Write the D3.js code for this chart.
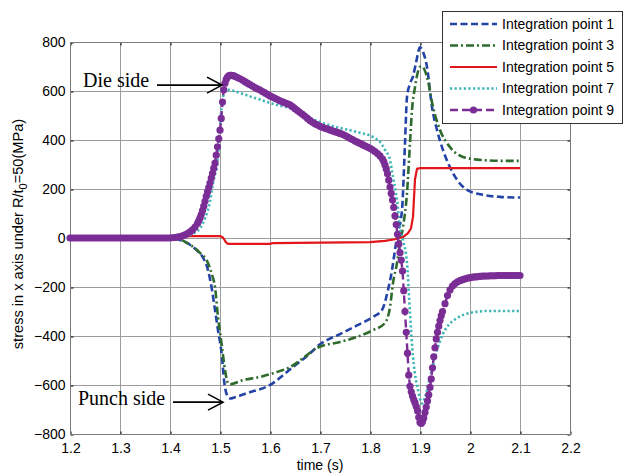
<!DOCTYPE html>
<html>
<head>
<meta charset="utf-8">
<script src="https://cdn.jsdelivr.net/npm/d3@7"></script>
<style>
  html, body { margin: 0; padding: 0; background: #fff; }
  svg { display: block; }
</style>
</head>
<body>
<svg id="chart" width="625" height="474"></svg>
<script>
// Axis ticks
const timeTicks = [1.2, 1.3, 1.4, 1.5, 1.6, 1.7, 1.8, 1.9, 2.0, 2.1, 2.2];
const stressTicks = [-800, -600, -400, -200, 0, 200, 400, 600, 800];

const seriesNames = ["Integration point 1", "Integration point 3", "Integration point 5",
                     "Integration point 7", "Integration point 9"];

// Stress history [time (s), stress (MPa)] for each integration point
const ip1 = [[1.2,0],[1.4,0],[1.42,-8],[1.434,-20],[1.446,-37],[1.456,-55],[1.466,-80],[1.476,-131],
  [1.484,-212],[1.49,-294],[1.496,-376],[1.504,-486],[1.508,-580],[1.514,-641],[1.52,-655],[1.53,-650],
  [1.554,-633],[1.6,-600],[1.645,-528],[1.674,-482],[1.7,-434],[1.74,-392],[1.774,-357],[1.806,-322],
  [1.824,-294],[1.836,-212],[1.844,-131],[1.85,-49],[1.854,4],[1.864,114],[1.87,388],[1.874,576],
  [1.88,630],[1.886,660],[1.892,715],[1.9,778],[1.906,760],[1.914,698],[1.924,535],[1.934,441],
  [1.946,359],[1.966,265],[1.994,196],[2.026,176],[2.06,168],[2.1,165]];

const ip3 = [[1.2,0],[1.4,0],[1.42,-6],[1.434,-20],[1.46,-61],[1.476,-102],[1.484,-150],[1.49,-200],
  [1.496,-322],[1.504,-445],[1.51,-539],[1.516,-592],[1.52,-597],[1.546,-580],[1.58,-567],[1.614,-547],
  [1.64,-527],[1.674,-478],[1.694,-449],[1.74,-424],[1.774,-404],[1.806,-376],[1.83,-347],[1.84,-282],
  [1.846,-184],[1.854,-102],[1.86,-20],[1.866,45],[1.874,184],[1.88,388],[1.884,522],[1.89,616],
  [1.9,698],[1.904,700],[1.914,657],[1.926,535],[1.94,441],[1.96,371],[1.986,331],[2.026,318],
  [2.06,315],[2.1,315]];

const ip5 = [[1.2,0],[1.4,0],[1.42,4],[1.44,8],[1.5,8],[1.506,2],[1.512,-18],[1.516,-24],[1.6,-24],
  [1.605,-21],[1.8,-17],[1.83,-12],[1.85,-5],[1.866,4],[1.876,20],[1.882,40],[1.886,86],[1.89,240],
  [1.894,282],[1.9,285],[2.1,285]];

const ip7 = [[1.2,0],[1.4,0],[1.42,3],[1.44,12],[1.46,40],[1.47,80],[1.48,150],[1.485,210],[1.49,260],
  [1.494,290],[1.497,370],[1.5,453],[1.503,530],[1.506,576],[1.51,598],[1.515,605],[1.52,604],
  [1.54,592],[1.56,578],[1.58,565],[1.6,551],[1.62,540],[1.64,530],[1.66,510],[1.68,490],[1.7,473],
  [1.72,460],[1.74,449],[1.76,440],[1.78,430],[1.8,418],[1.81,408],[1.82,392],[1.83,360],[1.84,318],
  [1.846,249],[1.854,155],[1.86,40],[1.866,-10],[1.874,-102],[1.88,-306],[1.886,-486],[1.892,-580],
  [1.896,-620],[1.904,-675],[1.91,-650],[1.92,-567],[1.934,-457],[1.945,-395],[1.954,-363],
  [1.974,-327],[2.0,-306],[2.034,-298],[2.1,-298]];

const ip9 = [[1.2,0],[1.205,0],[1.21,0],[1.215,0],[1.22,0],[1.225,0],[1.23,0],[1.235,0],[1.24,0],
  [1.245,0],[1.25,0],[1.255,0],[1.26,0],[1.265,0],[1.27,0],[1.275,0],[1.28,0],[1.285,0],[1.29,0],
  [1.295,0],[1.3,0],[1.305,0],[1.31,0],[1.315,0],[1.32,0],[1.325,0],[1.33,0],[1.335,0],[1.34,0],
  [1.345,0],[1.35,0],[1.355,0],[1.36,0],[1.365,0],[1.37,0],[1.375,0],[1.38,0],[1.385,0],[1.39,0],
  [1.395,0],[1.4,0],[1.405,1],[1.41,2],[1.415,4],[1.42,6],[1.425,9],[1.43,13],[1.435,18],[1.44,25],
  [1.445,33],[1.45,45],[1.455,60],[1.4575,70],[1.46,82],[1.4625,96],[1.465,112],[1.4675,130],
  [1.47,150],[1.4725,170],[1.475,188],[1.4775,206],[1.48,224],[1.4825,244],[1.485,264],[1.4875,285],
  [1.49,306],[1.4925,338],[1.495,372],[1.4975,405],[1.5,440],[1.5025,488],[1.505,555],[1.5075,605],
  [1.51,632],[1.5125,648],[1.515,657],[1.5175,662],[1.52,664],[1.5225,664],[1.525,663],[1.5275,662],
  [1.53,660],[1.535,655],[1.54,650],[1.545,645],[1.55,638],[1.555,632],[1.56,626],[1.565,620],
  [1.57,614],[1.575,609],[1.58,604],[1.585,598],[1.59,592],[1.595,586],[1.6,580],[1.605,575],
  [1.61,570],[1.615,565],[1.62,560],[1.625,556],[1.63,552],[1.635,548],[1.64,543],[1.645,536],
  [1.65,528],[1.655,520],[1.66,512],[1.665,505],[1.67,497],[1.675,488],[1.68,480],[1.685,472],
  [1.69,466],[1.695,461],[1.7,456],[1.705,452],[1.71,448],[1.715,445],[1.72,441],[1.725,437],
  [1.73,434],[1.735,431],[1.74,427],[1.745,423],[1.75,418],[1.755,413],[1.76,407],[1.765,402],
  [1.77,396],[1.775,391],[1.78,386],[1.785,381],[1.79,376],[1.795,371],[1.8,366],[1.805,360],
  [1.81,353],[1.815,345],[1.82,335],[1.825,322],[1.8275,312],[1.83,298],[1.8325,282],[1.835,262],
  [1.8375,236],[1.84,208],[1.8425,182],[1.845,155],[1.8475,125],[1.85,90],[1.8525,55],[1.855,15],
  [1.8575,-25],[1.86,-60],[1.8625,-90],[1.865,-135],[1.8675,-215],[1.87,-300],[1.8725,-385],
  [1.875,-470],[1.8775,-560],[1.88,-605],[1.8825,-628],[1.885,-645],[1.8875,-660],[1.89,-672],
  [1.8925,-688],[1.895,-705],[1.8975,-732],[1.9,-752],[1.9025,-757],[1.905,-750],[1.9075,-735],
  [1.91,-712],[1.9125,-690],[1.915,-665],[1.9175,-640],[1.92,-610],[1.9225,-575],[1.925,-530],
  [1.9275,-485],[1.93,-448],[1.9325,-412],[1.935,-385],[1.9375,-360],[1.94,-337],[1.9425,-317],
  [1.945,-300],[1.95,-268],[1.955,-235],[1.96,-212],[1.965,-196],[1.97,-186],[1.975,-179],
  [1.98,-174],[1.985,-170],[1.99,-167],[1.995,-164],[2.0,-162],[2.005,-160],[2.01,-159],[2.015,-158],
  [2.02,-157],[2.025,-156],[2.03,-155],[2.035,-155],[2.04,-154],[2.045,-154],[2.05,-154],[2.055,-153],
  [2.06,-153],[2.065,-153],[2.07,-153],[2.075,-153],[2.08,-153],[2.085,-153],[2.09,-153],[2.095,-153],
  [2.1,-153]];

// Annotations: label, text position (t, stress), arrow tail and tip (t, stress)
const notes = [
  { text: "Die side",   at: [1.226, 616],  from: [1.374, 624],  to: [1.504, 624] },
  { text: "Punch side", at: [1.216, -682], from: [1.406, -670], to: [1.506, -670] }
];

// Line styles per series
const styles = [
  { color: "#2443a6", width: 2.6, dash: "7,3.5",       curve: d3.curveMonotoneX },
  { color: "#2f6b2c", width: 2.6, dash: "8,3,2,3",     curve: d3.curveMonotoneX },
  { color: "#e3161b", width: 2.2, dash: null,          curve: d3.curveLinear },
  { color: "#3db5b8", width: 2.6, dash: "2.2,2.4",     curve: d3.curveMonotoneX },
  { color: "#7b2d96", width: 2.4, dash: "8,4",         curve: d3.curveLinear, marker: 3.6 }
];
const seriesData = [ip1, ip3, ip5, ip7, ip9];

const svg = d3.select("#chart");
svg.append("rect").attr("width", 625).attr("height", 474).attr("fill", "#fff");

const x = d3.scaleLinear().domain([1.2, 2.2]).range([70, 570]);
const y = d3.scaleLinear().domain([-800, 800]).range([434, 42]);

const font = "'Liberation Sans', Arial, Helvetica, sans-serif";

// Grid
const grid = svg.append("g").attr("stroke", "#9c9c9c").attr("stroke-width", 1);
timeTicks.forEach(t => grid.append("line")
  .attr("x1", Math.round(x(t)) + 0.5).attr("x2", Math.round(x(t)) + 0.5)
  .attr("y1", y(800)).attr("y2", y(-800)));
stressTicks.forEach(s => grid.append("line")
  .attr("x1", x(1.2)).attr("x2", x(2.2))
  .attr("y1", Math.round(y(s)) + 0.5).attr("y2", Math.round(y(s)) + 0.5));

// Axes: inward ticks on all four sides
const fmtT = d => String(+d.toFixed(1));
function styleAxis(g) {
  g.select(".domain").remove();
  g.selectAll(".tick line").attr("stroke", "#000");
  g.selectAll("text").attr("font-family", font).attr("font-size", 14).attr("fill", "#000");
}
svg.append("g").attr("transform", "translate(0.5,434.5)")
  .call(d3.axisBottom(x).tickValues(timeTicks).tickFormat(fmtT).tickSizeInner(-3).tickSizeOuter(0).tickPadding(9))
  .call(styleAxis);
svg.append("g").attr("transform", "translate(0.5,42.5)")
  .call(d3.axisTop(x).tickValues(timeTicks).tickFormat("").tickSizeInner(-3).tickSizeOuter(0))
  .call(styleAxis);
svg.append("g").attr("transform", "translate(70.5,0.5)")
  .call(d3.axisLeft(y).tickValues(stressTicks).tickSizeInner(-3).tickSizeOuter(0).tickPadding(5))
  .call(styleAxis);
svg.append("g").attr("transform", "translate(570.5,0.5)")
  .call(d3.axisRight(y).tickValues(stressTicks).tickFormat("").tickSizeInner(-3).tickSizeOuter(0))
  .call(styleAxis);

// Frame
svg.append("rect").attr("x", 70.5).attr("y", 42.5).attr("width", 500).attr("height", 392)
  .attr("fill", "none").attr("stroke", "#7a7a7a").attr("stroke-width", 1);

// Series
const plot = svg.append("g");
seriesData.forEach((data, i) => {
  const st = styles[i];
  const line = d3.line().x(d => x(d[0])).y(d => y(d[1])).curve(st.curve);
  plot.append("path").datum(data)
    .attr("d", line)
    .attr("fill", "none")
    .attr("stroke", st.color)
    .attr("stroke-width", st.width)
    .attr("stroke-dasharray", st.dash)
    .attr("stroke-linejoin", "round");
  if (st.marker) {
    plot.append("g").selectAll("circle").data(data).join("circle")
      .attr("cx", d => x(d[0])).attr("cy", d => y(d[1])).attr("r", st.marker)
      .attr("fill", st.color);
  }
});

// Annotations
const ann = svg.append("g");
notes.forEach(n => {
  ann.append("text").attr("x", x(n.at[0])).attr("y", y(n.at[1]))
    .attr("font-family", "'Liberation Serif', 'Times New Roman', serif")
    .attr("font-size", 20).attr("fill", "#000").text(n.text);
  const x0 = x(n.from[0]), x1 = x(n.to[0]), yy = y(n.to[1]);
  ann.append("path")
    .attr("d", `M${x0},${yy}H${x1}M${x1 - 15},${yy - 8}L${x1},${yy}L${x1 - 15},${yy + 8}`)
    .attr("fill", "none").attr("stroke", "#000").attr("stroke-width", 1.6);
});

// Axis titles
svg.append("text").attr("x", 320).attr("y", 470).attr("text-anchor", "middle")
  .attr("font-family", font).attr("font-size", 14).text("time (s)");
const yt = svg.append("text").attr("transform", "translate(23,234) rotate(-90)")
  .attr("text-anchor", "middle").attr("font-family", font).attr("font-size", 14.6);
yt.append("tspan").text("stress in x axis under R/t");
yt.append("tspan").attr("dy", 4).attr("font-size", 11).text("0");
yt.append("tspan").attr("dy", -4).text("=50(MPa)");

// Legend
const lg = svg.append("g");
lg.append("rect").attr("x", 442.5).attr("y", 11.5).attr("width", 180).attr("height", 112)
  .attr("fill", "#fff").attr("stroke", "#333").attr("stroke-width", 1);
seriesNames.forEach((name, i) => {
  const st = styles[i];
  const ly = 24 + i * 21.5;
  lg.append("line").attr("x1", 450).attr("x2", 497).attr("y1", ly).attr("y2", ly)
    .attr("stroke", st.color).attr("stroke-width", st.width).attr("stroke-dasharray", st.dash);
  if (st.marker) {
    lg.append("circle").attr("cx", 473.5).attr("cy", ly).attr("r", st.marker).attr("fill", st.color);
  }
  lg.append("text").attr("x", 502).attr("y", ly).attr("dy", "0.35em")
    .attr("font-family", font).attr("font-size", 14).attr("fill", "#000").text(name);
});
</script>
</body>
</html>
